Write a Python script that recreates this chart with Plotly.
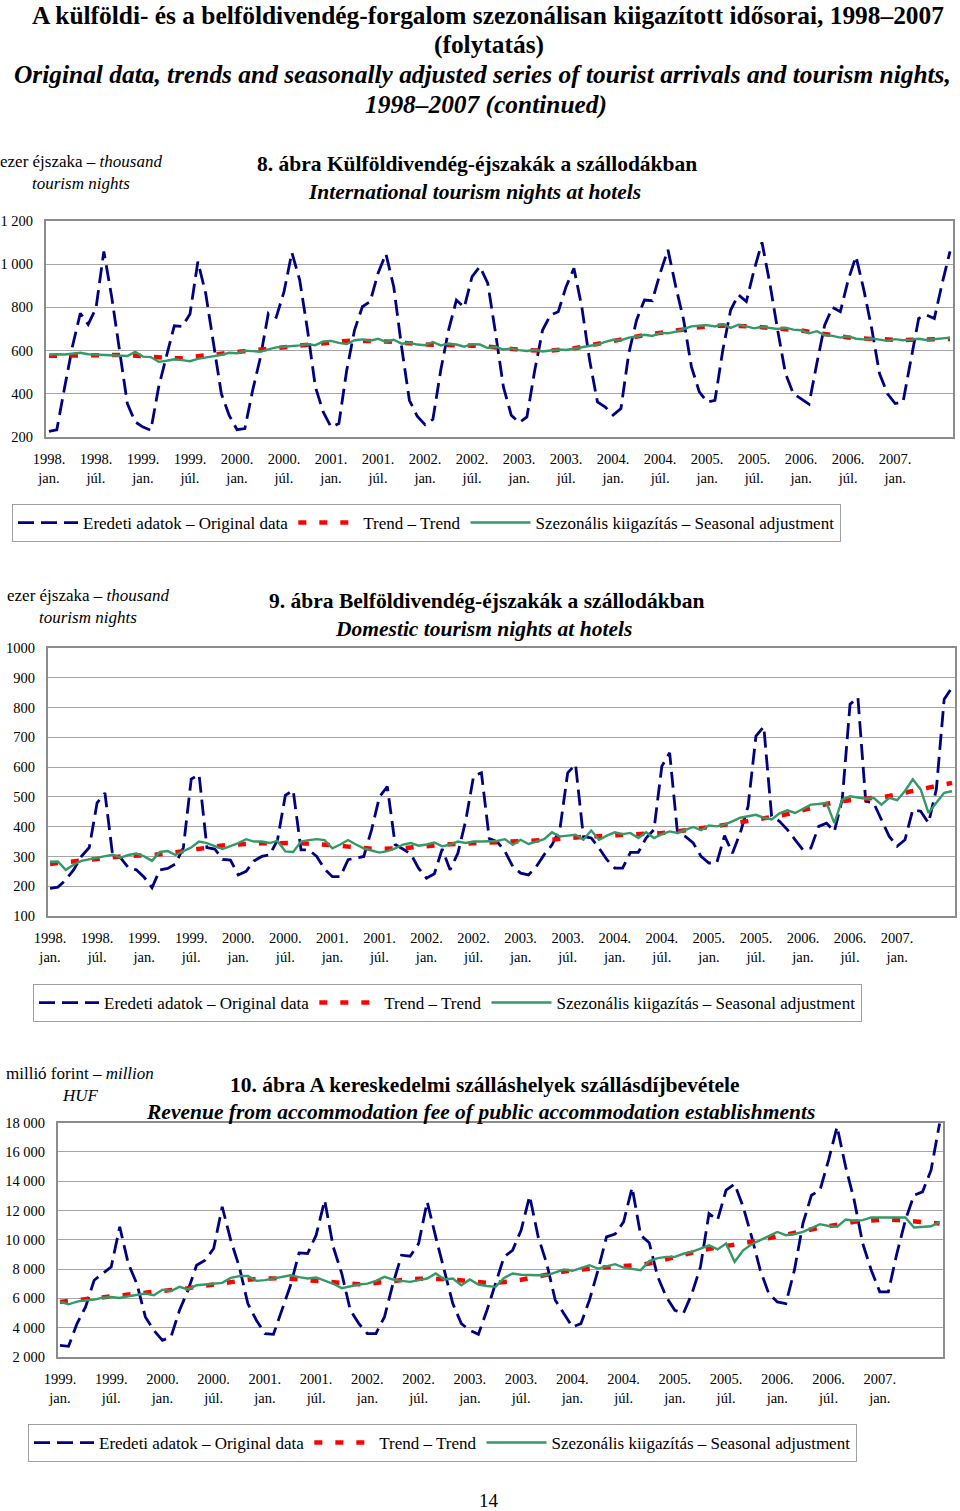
import plotly.graph_objects as go

FONT = "Liberation Serif"
W, H = 960, 1511


def px(x):
    return x / W


def py(y):
    return 1 - y / H


# ---------------- Chart 8: International tourism nights at hotels (1998.01-2007.08)
orig8 = [
    226, 233, 430, 620, 773, 721, 796, 1059, 850, 602, 355, 270,
    246, 231, 432, 575, 715, 712, 770, 1012, 865, 633, 400, 300,
    234, 239, 417, 571, 773, 754, 873, 1054, 927, 695, 432, 316,
    246, 262, 509, 695, 803, 827, 958, 1048, 896, 618, 370, 296,
    257, 282, 509, 695, 834, 800, 943, 989, 912, 680, 432, 301,
    267, 293, 509, 695, 765, 780, 896, 981, 803, 556, 362, 339,
    301, 332, 587, 742, 834, 831, 958, 1067, 896, 742, 525, 409,
    362, 370, 602, 788, 858, 827, 974, 1101, 912, 695, 494, 401,
    378, 352, 540, 718, 800, 780, 927, 1036, 881, 703, 494, 401,
    355, 362, 556, 749, 765, 749, 912, 1059,
]
trend8 = [
    576, 577, 578, 578, 579, 579, 580, 580, 580, 580, 579, 577,
    574, 570, 566, 564, 564, 566, 569, 573, 577, 581, 586, 590,
    594, 598, 601, 604, 608, 611, 615, 618, 622, 627, 632, 637,
    640, 643, 645, 646, 646, 646, 645, 644, 641, 637, 633, 630,
    628, 627, 627, 627, 626, 625, 623, 621, 619, 616, 612, 608,
    605, 602, 600, 599, 600, 602, 606, 611, 617, 624, 632, 640,
    648, 655, 661, 667, 672, 677, 681, 686, 692, 698, 704, 709,
    713, 715, 716, 716, 715, 713, 711, 708, 706, 704, 701, 698,
    693, 687, 681, 675, 670, 665, 661, 657, 655, 652, 650, 649,
    649, 649, 650, 650, 651, 652, 653, 654,
]
sa8 = [
    580, 583, 582, 585, 590, 583, 581, 582, 580, 578, 575, 594,
    572, 570, 548, 553, 560, 556, 551, 562, 568, 575, 580, 590,
    588, 600, 598, 595, 606, 615, 618, 620, 624, 630, 625, 642,
    645, 636, 630, 648, 652, 646, 655, 640, 650, 632, 636, 628,
    625, 640, 624, 632, 628, 618, 630, 628, 612, 618, 605, 610,
    602, 598, 604, 596, 600, 605, 603, 610, 615, 622, 628, 640,
    650, 648, 660, 665, 673, 668, 682, 680, 688, 700, 712, 715,
    718, 712, 722, 705, 720, 712, 703, 710, 705, 700, 706, 697,
    694, 680, 690, 672, 668, 660, 666, 655, 652, 656, 651, 645,
    653, 648, 651, 655, 649, 652, 655, 660,
]

# ---------------- Chart 9: Domestic tourism nights at hotels (1998.01-2007.08)
orig9 = [
    193, 197, 221, 255, 300, 330, 480, 513, 300, 295, 262, 255,
    230, 195, 255, 260, 275, 330, 560, 575, 330, 325, 290, 288,
    238, 250, 285, 300, 305, 355, 505, 522, 322, 322, 300, 258,
    232, 232, 289, 294, 300, 390, 500, 535, 340, 325, 308, 260,
    227, 242, 325, 255, 311, 420, 570, 581, 360, 350, 317, 266,
    244, 238, 266, 306, 339, 390, 581, 609, 367, 362, 328, 289,
    261, 261, 314, 314, 362, 390, 603, 648, 379, 367, 345, 300,
    278, 278, 370, 311, 379, 469, 704, 736, 435, 418, 390, 356,
    322, 328, 401, 412, 384, 491, 811, 834, 485, 480, 424, 367,
    334, 356, 457, 452, 412, 525, 828, 867,
]
trend9 = [
    275, 278, 281, 284, 287, 290, 293, 296, 298, 300, 301, 302,
    303, 305, 307, 310, 314, 318, 323, 328, 332, 335, 337, 339,
    341, 342, 343, 344, 344, 345, 345, 345, 344, 343, 342, 340,
    338, 336, 333, 330, 328, 326, 325, 325, 326, 328, 330, 333,
    335, 337, 339, 341, 342, 343, 345, 346, 347, 348, 348, 349,
    349, 350, 351, 353, 356, 359, 362, 364, 366, 367, 368, 370,
    371, 372, 373, 374, 375, 377, 379, 381, 384, 387, 390, 394,
    398, 402, 406, 410, 414, 418, 422, 427, 432, 437, 442, 448,
    455, 462, 469, 476, 482, 486, 489, 491, 493, 496, 499, 503,
    508, 513, 519, 525, 531, 537, 542, 547,
]
sa9 = [
    282, 283, 255, 272, 285, 290, 295, 300, 306, 296, 305, 310,
    300, 285, 315, 318, 305, 318, 330, 350, 345, 335, 325, 335,
    345, 358, 350, 350, 345, 352, 317, 315, 350, 355, 358, 355,
    327, 340, 355, 340, 327, 320, 313, 318, 327, 340, 345, 336,
    340, 347, 334, 340, 350, 345, 350, 350, 350, 352, 358, 339,
    356, 342, 350, 358, 381, 367, 370, 373, 356, 387, 356, 370,
    381, 375, 379, 362, 381, 362, 375, 384, 379, 390, 399, 388,
    404, 401, 407, 418, 430, 435, 440, 430, 424, 445, 455, 446,
    460, 474, 476, 480, 412, 491, 502, 498, 494, 497, 474, 497,
    489, 520, 559, 525, 446, 480, 514, 519,
]

# ---------------- Chart 10: Revenue from accommodation fee (1999.01-2007.08)
orig10 = [
    2800, 2730, 4280, 5420, 7240, 7700, 8150, 10890, 8380, 7010, 4740, 3820,
    3140, 3370, 5190, 6560, 8270, 8610, 9410, 12260, 9980, 8150, 5650, 4510,
    3600, 3550, 5190, 6900, 9110, 9070, 10320, 12700, 9520, 7700, 5190, 4280,
    3600, 3600, 4740, 7010, 8950, 8880, 9750, 12600, 10200, 7930, 5650, 4280,
    3820, 3550, 5190, 7010, 8840, 9290, 10660, 12990, 10200, 8380, 5880, 4970,
    4050, 4280, 5880, 7930, 10200, 10390, 11230, 13580, 10320, 9800, 7470, 6100,
    5190, 4970, 6330, 8150, 11800, 11350, 13400, 13810, 12260, 10200, 7930, 6330,
    5760, 5650, 7930, 11120, 13050, 13400, 15450, 17730, 14990, 12710, 9750, 7930,
    6450, 6450, 9070, 11350, 13050, 13280, 14760, 17950,
]
trend10 = [
    5760, 5820, 5880, 5940, 6000, 6060, 6120, 6180, 6240, 6300, 6350, 6400,
    6450, 6530, 6610, 6700, 6790, 6880, 6970, 7050, 7130, 7200, 7270, 7330,
    7370, 7390, 7380, 7340, 7290, 7250, 7220, 7180, 7120, 7050, 6990, 6970,
    7000, 7070, 7160, 7230, 7280, 7310, 7340, 7360, 7360, 7330, 7280, 7220,
    7150, 7090, 7060, 7070, 7110, 7170, 7270, 7390, 7520, 7640, 7740, 7840,
    7920, 7990, 8040, 8090, 8130, 8170, 8200, 8240, 8280, 8390, 8550, 8710,
    8840, 8980, 9120, 9260, 9410, 9500, 9580, 9660, 9750, 9870, 10000, 10130,
    10250, 10370, 10490, 10600, 10710, 10830, 10940, 11050, 11160, 11230, 11300, 11350,
    11390, 11380, 11350, 11300, 11250, 11200, 11150, 11120,
]
sa10 = [
    5760, 5600, 5780, 5880, 5920, 6050, 6100, 6030, 6150, 6220, 6330, 6220,
    6600, 6510, 6790, 6620, 6900, 6950, 7010, 7060, 7400, 7520, 7540, 7200,
    7250, 7360, 7450, 7580, 7450, 7360, 7430, 7200, 7000, 6700, 6850, 6950,
    7010, 7200, 7470, 7290, 7200, 7130, 7250, 7360, 7700, 7290, 7360, 6900,
    7290, 6950, 6850, 6790, 7400, 7700, 7620, 7580, 7580, 7580, 7750, 7970,
    7880, 8100, 8270, 8040, 8200, 8340, 8100, 8040, 7930, 8550, 8750, 8840,
    8840, 9050, 9180, 9400, 9630, 9350, 9750, 8500, 9290, 9700, 10000, 10250,
    10540, 10320, 10400, 10540, 10800, 11070, 10950, 10890, 11390, 11300, 11350, 11530,
    11530, 11530, 11530, 11530, 10840, 10900, 10930, 11230,
]

month_names = ["jan.", "júl."]
ticks_a = [f"{1998 + i // 2}.<br>{month_names[i % 2]}" for i in range(19)]
tickv_a = [6 * i for i in range(19)]
ticks_c = [f"{1999 + i // 2}.<br>{month_names[i % 2]}" for i in range(17)]
tickv_c = [6 * i for i in range(17)]

names = ["Eredeti adatok – Original data", "Trend – Trend",
         "Szezonális kiigazítás – Seasonal adjustment"]
NAVY, RED, GREEN = "#000080", "#ff0000", "#339966"

fig = go.Figure()


def add_chart(orig, trend, sa, xa, ya, leg):
    xs = list(range(len(orig)))
    fig.add_trace(go.Scatter(x=xs, y=orig, mode="lines", name=names[0],
                             line=dict(color=NAVY, width=2.8, dash="16px,7px"),
                             xaxis=xa, yaxis=ya, legend=leg))
    fig.add_trace(go.Scatter(x=xs, y=trend, mode="lines", name=names[1],
                             line=dict(color=RED, width=4.5, dash="8px,13px"),
                             xaxis=xa, yaxis=ya, legend=leg))
    fig.add_trace(go.Scatter(x=xs, y=sa, mode="lines", name=names[2],
                             line=dict(color=GREEN, width=2.4),
                             xaxis=xa, yaxis=ya, legend=leg))


add_chart(orig8, trend8, sa8, "x", "y", "legend")
add_chart(orig9, trend9, sa9, "x2", "y2", "legend2")
add_chart(orig10, trend10, sa10, "x3", "y3", "legend3")

BORDER = "#8c8c8c"
GRID = "#a6a6a6"
tickfont = dict(family=FONT, size=14.5, color="black")


def xaxis(dom, rng, tv, tt, anchor):
    return dict(domain=dom, range=rng, tickvals=tv, ticktext=tt, showgrid=False,
                zeroline=False, showline=True, mirror=True, linecolor=BORDER,
                linewidth=2, ticks="", tickfont=tickfont, anchor=anchor,
                ticklabelstandoff=8, tickangle=0, automargin=False)


def yaxis(dom, rng, tv, tt, anchor):
    return dict(domain=dom, range=rng, tickvals=tv, ticktext=tt, showgrid=True,
                gridcolor=GRID, gridwidth=1, zeroline=False, showline=True,
                mirror=True, linecolor=BORDER, linewidth=2, ticks="",
                tickfont=tickfont, anchor=anchor, ticklabelstandoff=8,
                automargin=False)


fig.update_layout(
    width=W, height=H, margin=dict(l=0, r=0, t=0, b=0, pad=0, autoexpand=False),
    paper_bgcolor="white", plot_bgcolor="white",
    font=dict(family=FONT, size=17, color="black"),
    xaxis=xaxis([px(46), px(953)], [-0.38, 115.38], tickv_a, ticks_a, "y"),
    yaxis=yaxis([py(437), py(221)], [200, 1200], [200, 400, 600, 800, 1000, 1200],
                ["200", "400", "600", "800", "1 000", "1 200"], "x"),
    xaxis2=xaxis([px(48), px(955)], [-0.26, 115.38], tickv_a, ticks_a, "y2"),
    yaxis2=yaxis([py(916), py(648)], [100, 1000], list(range(100, 1001, 100)),
                 [str(v) for v in range(100, 1001, 100)], "x2"),
    xaxis3=xaxis([px(58), px(943)], [-0.23, 103.4], tickv_c, ticks_c, "y3"),
    yaxis3=yaxis([py(1357), py(1122.7)], [2000, 18000], list(range(2000, 18001, 2000)),
                 [f"{v // 1000} 000" for v in range(2000, 18001, 2000)], "x3"),
)

legend_common = dict(orientation="h", xanchor="left", yanchor="top",
                     bordercolor="#a0a0a0", borderwidth=1, bgcolor="white",
                     font=dict(family=FONT, size=17, color="black"),
                     itemwidth=60, tracegroupgap=0)
fig.update_layout(
    legend=dict(x=px(12), y=py(504), **legend_common),
    legend2=dict(x=px(33), y=py(984), **legend_common),
    legend3=dict(x=px(28), y=py(1424), **legend_common),
)


def ann(text, x, y, size, xanchor="center"):
    fig.add_annotation(text=text, x=px(x), y=py(y), xref="paper", yref="paper",
                       xanchor=xanchor, yanchor="middle", showarrow=False,
                       font=dict(family=FONT, size=size, color="black"))


# Main title
ann("<b>A külföldi- és a belföldivendég-forgalom szezonálisan kiigazított idősorai, 1998–2007</b>", 488, 15, 25.4)
ann("<b>(folytatás)</b>", 489, 45, 25.4)
ann("<b><i>Original data, trends and seasonally adjusted series of tourist arrivals and tourism nights,</i></b>", 482, 74, 25.4)
ann("<b><i>1998–2007 (continued)</i></b>", 486, 104, 25.4)

# Chart 8 texts
ann("ezer éjszaka – <i>thousand</i>", 81, 161, 17)
ann("<i>tourism nights</i>", 81, 183, 17)
ann("<b>8. ábra Külföldivendég-éjszakák a szállodákban</b>", 477, 164, 21.5)
ann("<b><i>International tourism nights at hotels</i></b>", 474, 192, 21.5)

# Chart 9 texts
ann("ezer éjszaka – <i>thousand</i>", 88, 596, 17)
ann("<i>tourism nights</i>", 88, 618, 17)
ann("<b>9. ábra Belföldivendég-éjszakák a szállodákban</b>", 486, 601, 21.5)
ann("<b><i>Domestic tourism nights at hotels</i></b>", 483, 629, 21.5)

# Chart 10 texts
ann("millió forint – <i>million</i>", 80, 1073, 17)
ann("<i>HUF</i>", 80, 1095, 17)
ann("<b>10. ábra A kereskedelmi szálláshelyek szállásdíjbevétele</b>", 485, 1085, 21.5)
ann("<b><i>Revenue from accommodation fee of public accommodation establishments</i></b>", 480, 1112, 21.5)

# Page number
ann("14", 489, 1500, 19)

fig.write_html(
    "out.html",
    config={"displayModeBar": False},
    post_script="document.body.style.margin='0';"
                "document.documentElement.style.overflow='hidden';",
)
